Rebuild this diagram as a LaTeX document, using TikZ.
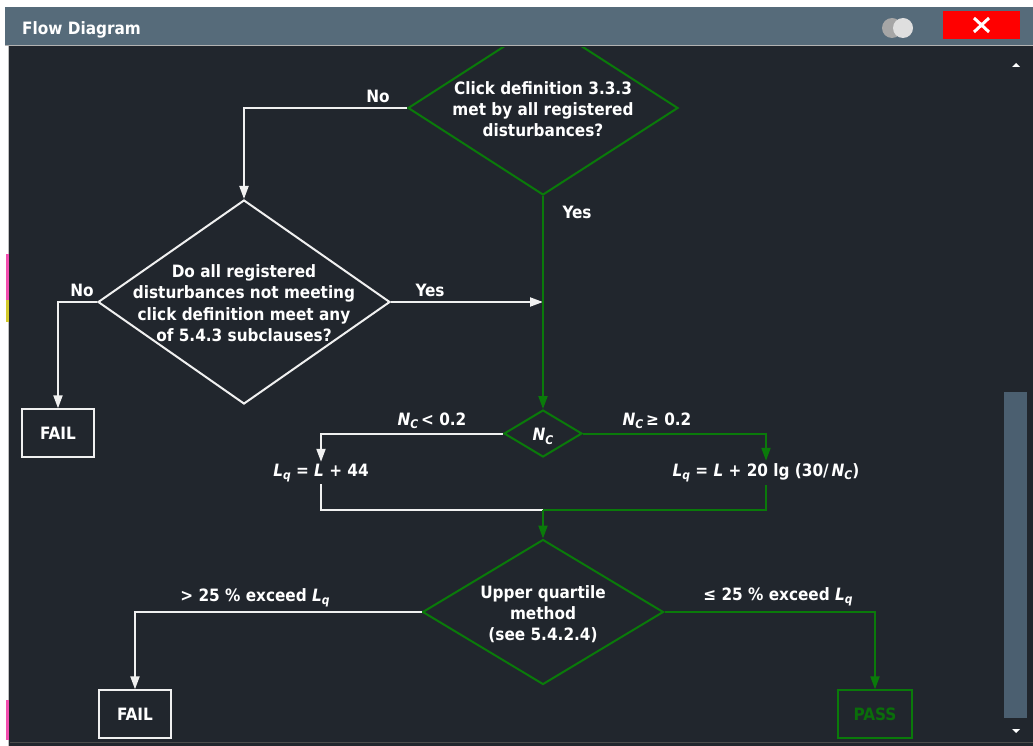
\documentclass[tikz,border=0pt]{standalone}
\usepackage{fontspec}
\setmainfont{DejaVu Sans Condensed}
\usetikzlibrary{shapes.geometric,arrows.meta}
\definecolor{bgdark}{RGB}{33,38,45}
\definecolor{titlec}{RGB}{86,107,122}
\definecolor{scrollc}{RGB}{75,95,112}
\definecolor{lineg}{RGB}{10,122,10}
\definecolor{passg}{RGB}{10,110,10}
\definecolor{linew}{RGB}{240,240,240}
\newcommand\fs{\bfseries\fontsize{17}{21.3}\selectfont}
\newcommand\Lq{\textit{L}\raisebox{-0.18em}{\fontsize{12}{12}\selectfont\textit{q}}}
\newcommand\Nc{\textit{N}\raisebox{-0.18em}{\fontsize{12}{12}\selectfont\textit{C}}}
\newcommand\ctext[1]{\smash{\makebox[0pt]{\raisebox{-7.5pt}{\begin{tabular}{@{}c@{}}#1\end{tabular}}}}}
\begin{document}
\begin{tikzpicture}[x=1pt,y=-1pt,
  lbl/.style={text=white, font=\fs, inner sep=0pt},
  wline/.style={draw=linew, line width=2pt},
  gline/.style={draw=lineg, line width=2pt},
  warr/.style={wline,-{Triangle[width=9pt,length=13pt]}},
  garr/.style={gline,-{Triangle[width=9pt,length=13pt]}},
  dia/.style={diamond, line width=2pt, inner sep=0pt, text=white, font=\fs},
  box/.style={rectangle, line width=1.3pt, minimum width=72pt, minimum height=48pt, font=\fs, inner sep=0pt}]
\useasboundingbox (0,0) rectangle (1033,746);
% window
\fill[white] (0,0) rectangle (1033,746);
\fill[titlec] (5,7) rectangle (1033,46);
\draw[gray!60,line width=1pt] (5,45.5) -- (1033,45.5);
\fill[bgdark] (8,46) rectangle (1033,746);
\draw[gray!50,line width=1pt] (8.5,46) -- (8.5,746);
\fill[magenta!70] (6,254) rectangle (9,300);
\fill[yellow!80!black] (6,300) rectangle (9,322);
\fill[magenta!70] (6,700) rectangle (9,740);
\draw[black!70,line width=1pt] (10,742.5) -- (1033,742.5);
% title bar
\node[anchor=west, text=white, font=\bfseries\fontsize{17}{20}\selectfont, inner sep=0pt] (title) at (22,30) {Flow Diagram};
\fill[gray!70] (892,28) circle (10);
\fill[gray!25] (903,28) circle (10);
\node[fill=red, minimum width=77pt, minimum height=28pt, inner sep=0pt] (close) at (981.5,25) {};
\draw[white, line width=3pt] (974,18) -- (989,32) (989,18) -- (974,32);
% scrollbar
\fill[scrollc] (1004,392) rectangle (1027,718);
\fill[white] (1012,67) -- (1020,67) -- (1016,63) -- cycle;
\fill[white] (1012,729) -- (1020,729) -- (1016,733) -- cycle;
\begin{scope}
\clip (10,48) rectangle (1030,742);
% diamonds
\node[dia, draw=lineg, minimum width=270pt, minimum height=174pt] (d1) at (543,108)
  {\ctext{Click definition 3.3.3\\met by all registered\\disturbances?}};
\node[dia, draw=linew, minimum width=292pt, minimum height=204pt] (d2) at (244,302)
  {\ctext{Do all registered\\disturbances not meeting\\click definition meet any\\of 5.4.3 subclauses?}};
\node[dia, draw=lineg, minimum width=78pt, minimum height=47pt] (nc) at (543,433.5) {\ctext{\Nc}};
\node[dia, draw=lineg, minimum width=241pt, minimum height=145pt] (d3) at (543,612)
  {\ctext{Upper quartile\\method\\(see 5.4.2.4)}};
% boxes
\node[box, draw=linew, text=white] (fail1) at (58,433) {FAIL};
\node[box, draw=linew, text=white] (fail2) at (135,714) {FAIL};
\node[box, draw=lineg, text=passg, minimum width=74pt] (pass) at (875,714) {PASS};
% formulas
\node[lbl, minimum height=22pt] (lq1) at (321,473) {\Lq\ = \textit{L} + 44};
\node[lbl, minimum height=24pt] (lq2) at (766,473) {\Lq\ = \textit{L} + 20 lg (30/\,\Nc)};
% coordinates
\coordinate (join) at (543,302);
\coordinate (merge) at (543,510);
% connectors
\draw[warr] (d1.west) -| (d2.north);
\draw[warr] (d2.west) -| (fail1.north);
\draw[warr] (d2.east) -- (join);
\draw[garr] (d1.south) -- (nc.north);
\draw[warr] (nc.west) -| (lq1.north);
\draw[garr] (nc.east) -| (lq2.north);
\draw[wline] (lq1.south) |- (merge);
\draw[gline] (lq2.south) |- (merge);
\draw[garr] (merge) -- (d3.north);
\draw[warr] (d3.west) -| (fail2.north);
\draw[garr] (d3.east) -| (pass.north);
% labels
\node[lbl] (l1) at (378,96) {No};
\node[lbl] (l2) at (577,212) {Yes};
\node[lbl] (l3) at (82,290) {No};
\node[lbl] (l4) at (430,290) {Yes};
\node[lbl] (l5) at (432,421) {\Nc\,< 0.2};
\node[lbl] (l6) at (657,421) {\Nc\,≥ 0.2};
\node[lbl] (l7) at (255,598) {> 25 \% exceed \Lq};
\node[lbl] (l8) at (778,597) {≤ 25 \% exceed \Lq};
\end{scope}
\end{tikzpicture}
\end{document}
